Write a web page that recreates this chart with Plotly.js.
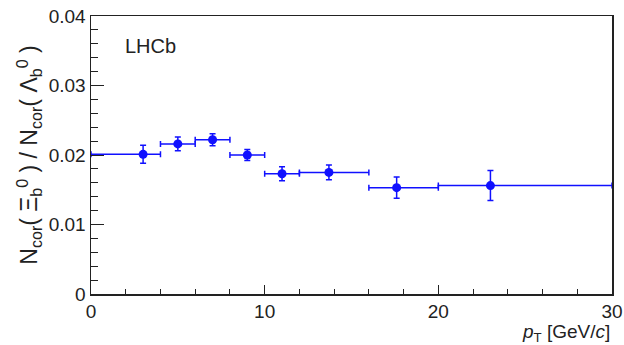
<!DOCTYPE html>
<html><head><meta charset="utf-8">
<script src="https://cdn.plot.ly/plotly-3.0.1.min.js"></script>
<style>html,body{margin:0;padding:0;background:#fff}</style>
</head><body>
<div id="chart" style="width:624px;height:345px"></div>
<script>
const pt = [3.0, 5.0, 7.0, 9.0, 11.0, 13.7, 17.6, 23.0];
const binLow = [0, 4, 6, 8, 10, 12, 16, 20];
const binHigh = [4, 6, 8, 10, 12, 16, 20, 30];
const ratio = [0.0201, 0.0216, 0.0222, 0.0200, 0.0173, 0.0175, 0.0153, 0.0156];
const ratioErr = [0.0013, 0.0010, 0.00086, 0.0008, 0.0010, 0.00105, 0.00153, 0.00216];

const errMinus = pt.map((v, i) => v - binLow[i]);
const errPlus = pt.map((v, i) => binHigh[i] - v);
const blue = '#1010ff';
const fnt = 'Liberation Sans, Arial, sans-serif';
const txt = '#222';

const trace = {
  x: pt, y: ratio, type: 'scatter', mode: 'markers',
  marker: {color: blue, size: 9},
  error_x: {type: 'data', symmetric: false, array: errPlus, arrayminus: errMinus, color: blue, thickness: 1.5, width: 3},
  error_y: {type: 'data', array: ratioErr, color: blue, thickness: 1.5, width: 3},
  cliponaxis: true, showlegend: false
};

const layout = {
  width: 624, height: 345,
  margin: {l: 91, r: 12, t: 16, b: 51},
  paper_bgcolor: '#fff', plot_bgcolor: '#fff',
  font: {family: fnt, color: txt, size: 19},
  xaxis: {
    range: [0, 30], tickvals: [0, 10, 20, 30], ticktext: ['0', '10', '20', '30'],
    ticks: 'inside', ticklen: 9, tickwidth: 1, tickcolor: txt,
    minor: {dtick: 2, tick0: 0, ticks: 'inside', ticklen: 5, tickwidth: 1, tickcolor: txt, showgrid: false},
    showline: true, linecolor: txt, linewidth: 1.5, mirror: true,
    showgrid: false, zeroline: false, tickfont: {size: 19, family: fnt, color: txt}
  },
  yaxis: {
    range: [0, 0.04], tickvals: [0, 0.01, 0.02, 0.03, 0.04], ticktext: ['0', '0.01', '0.02', '0.03', '0.04'],
    ticks: 'inside', ticklen: 13, tickwidth: 1, tickcolor: txt,
    minor: {dtick: 0.002, tick0: 0, ticks: 'inside', ticklen: 7, tickwidth: 1, tickcolor: txt, showgrid: false},
    showline: true, linecolor: txt, linewidth: 1.5, mirror: true,
    showgrid: false, zeroline: false, tickfont: {size: 19, family: fnt, color: txt},
    title: {text: 'N<sub>cor</sub>( Ξ<sub>b</sub><sup>0</sup> ) / N<sub>cor</sub>( Λ<sub>b</sub><sup>0</sup> )',
            font: {size: 23, family: fnt, color: txt}, standoff: 4}
  },
  annotations: [
    {text: 'LHCb', xref: 'paper', yref: 'paper', x: 0.062, y: 0.893, xanchor: 'left', yanchor: 'middle',
     showarrow: false, font: {size: 20, family: fnt, color: txt}},
    {text: '<i>p</i><sub>T</sub> [GeV/<i>c</i>]', xref: 'paper', yref: 'paper', x: 1.0, y: -0.142,
     xanchor: 'right', yanchor: 'middle', showarrow: false, font: {size: 19, family: fnt, color: txt}}
  ]
};

Plotly.newPlot('chart', [trace], layout, {staticPlot: true, displayModeBar: false});
</script>
</body></html>
